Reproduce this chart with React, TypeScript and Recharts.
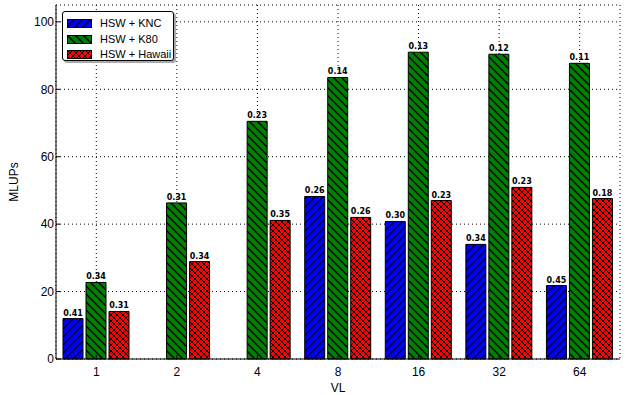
import React from "react";
import {
  BarChart,
  Bar,
  XAxis,
  YAxis,
  CartesianGrid,
  LabelList,
} from "recharts";

// Vector length categories
const categories = ["1", "2", "4", "8", "16", "32", "64"];

// MLUPs per configuration
const kncValues = [12.0, 0, 0, 48.2, 40.8, 34.0, 21.8];
const k80Values = [22.7, 46.3, 70.5, 83.5, 91.0, 90.4, 87.7];
const hawaiiValues = [14.1, 28.9, 41.1, 42.0, 47.0, 50.9, 47.6];

// Annotations printed above each bar
const kncLabels = ["0.41", "", "", "0.26", "0.30", "0.34", "0.45"];
const k80Labels = ["0.34", "0.31", "0.23", "0.14", "0.13", "0.12", "0.11"];
const hawaiiLabels = ["0.31", "0.34", "0.35", "0.26", "0.23", "0.23", "0.18"];

const yTicks = [0, 20, 40, 60, 80, 100];

const SERIES = [
  { key: "knc", name: "HSW + KNC", pattern: "hatchKnc" },
  { key: "k80", name: "HSW + K80", pattern: "hatchK80" },
  { key: "hawaii", name: "HSW + Hawaii", pattern: "hatchHawaii" },
];

const data = categories.map((vl, i) => ({
  vl,
  knc: kncValues[i],
  k80: k80Values[i],
  hawaii: hawaiiValues[i],
  kncLabel: kncLabels[i],
  k80Label: k80Labels[i],
  hawaiiLabel: hawaiiLabels[i],
}));

const FONT = "'Liberation Sans', Arial, sans-serif";

// labels read from their own data key, since zero bars get dropped from the index
const BarLabel = (props: any) => {
  const { x, y, width, value } = props;
  if (!value) return null;
  return (
    <text
      x={Number(x) + Number(width) / 2}
      y={Number(y) - 3}
      textAnchor="middle"
      fontSize={8}
      fontWeight="bold"
      fontFamily="'DejaVu Sans', sans-serif"
      fill="#000"
    >
      {value}
    </text>
  );
};

const LegendBox = () => (
  <div
    style={{
      position: "absolute",
      left: 62,
      top: 11,
      width: 112,
      height: 50,
      boxSizing: "border-box",
      border: "1px solid #000",
      borderRadius: 3,
      background: "#fff",
      boxShadow: "2px 2px 0 #aaa",
      padding: "4px 0 0 4px",
      fontFamily: FONT,
      fontSize: 11,
      lineHeight: "15.5px",
    }}
  >
    {SERIES.map((s) => (
      <div key={s.key} style={{ display: "flex", alignItems: "center", height: 15.5 }}>
        <svg width={25} height={9} style={{ marginRight: 8 }}>
          <rect x={0.5} y={0.5} width={24} height={8} fill={`url(#${s.pattern})`} stroke="#000" />
        </svg>
        <span>{s.name}</span>
      </div>
    ))}
  </div>
);

export default function App() {
  return (
    <div style={{ position: "absolute", left: 0, top: 0, width: 627, height: 395, background: "#fff" }}>
      <BarChart
        width={627}
        height={395}
        data={data}
        margin={{ top: 5, right: 7, left: 0, bottom: 0 }}
        barSize={20}
        barGap={3}
      >
        <defs>
          <pattern id="hatchKnc" patternUnits="userSpaceOnUse" width={8} height={8}>
            <rect width={8} height={8} fill="#0000ff" />
            <path d="M0,8 L8,0 M-2,2 L2,-2 M6,10 L10,6" stroke="#000" strokeWidth={1.3} />
          </pattern>
          <pattern id="hatchK80" patternUnits="userSpaceOnUse" width={8} height={8}>
            <rect width={8} height={8} fill="#008000" />
            <path d="M0,0 L8,8 M-2,6 L2,10 M6,-2 L10,2" stroke="#000" strokeWidth={1.3} />
          </pattern>
          <pattern id="hatchHawaii" patternUnits="userSpaceOnUse" width={6} height={6}>
            <rect width={6} height={6} fill="#ff0000" />
            <path
              d="M0,6 L6,0 M-2,2 L2,-2 M4,8 L8,4 M0,0 L6,6 M-2,4 L2,8 M4,-2 L8,2"
              stroke="#000"
              strokeWidth={1}
            />
          </pattern>
        </defs>
        <CartesianGrid stroke="#000" strokeDasharray="1 3" />
        <XAxis
          dataKey="vl"
          height={36}
          tick={{ fill: "#000", fontSize: 12, fontFamily: FONT }}
          tickLine={{ stroke: "#000" }}
          tickSize={-4}
          tickMargin={12}
          axisLine={{ stroke: "#000" }}
          label={{ value: "VL", position: "insideBottom", offset: 3, fill: "#000", fontSize: 12, fontFamily: FONT }}
        />
        <XAxis
          xAxisId="top"
          dataKey="vl"
          orientation="top"
          height={0}
          tick={false}
          tickLine={false}
          axisLine={{ stroke: "#000" }}
        />
        <YAxis
          width={56}
          domain={[0, 105]}
          ticks={yTicks}
          tick={{ fill: "#000", fontSize: 12, fontFamily: FONT }}
          tickLine={{ stroke: "#000" }}
          tickSize={-4}
          tickMargin={6}
          axisLine={{ stroke: "#000" }}
          label={{
            value: "MLUPs",
            angle: -90,
            position: "insideLeft",
            offset: 14,
            fill: "#000",
            fontSize: 12,
            fontFamily: FONT,
            style: { textAnchor: "middle" },
          }}
        />
        <YAxis
          yAxisId="right"
          orientation="right"
          width={0}
          domain={[0, 105]}
          tick={false}
          tickLine={false}
          axisLine={{ stroke: "#000" }}
        />
        {SERIES.map((s) => (
          <Bar
            key={s.key}
            dataKey={s.key}
            name={s.name}
            fill={`url(#${s.pattern})`}
            stroke="#000"
            strokeWidth={1}
            isAnimationActive={false}
          >
            <LabelList dataKey={`${s.key}Label`} content={BarLabel} />
          </Bar>
        ))}
      </BarChart>
      <LegendBox />
    </div>
  );
}
